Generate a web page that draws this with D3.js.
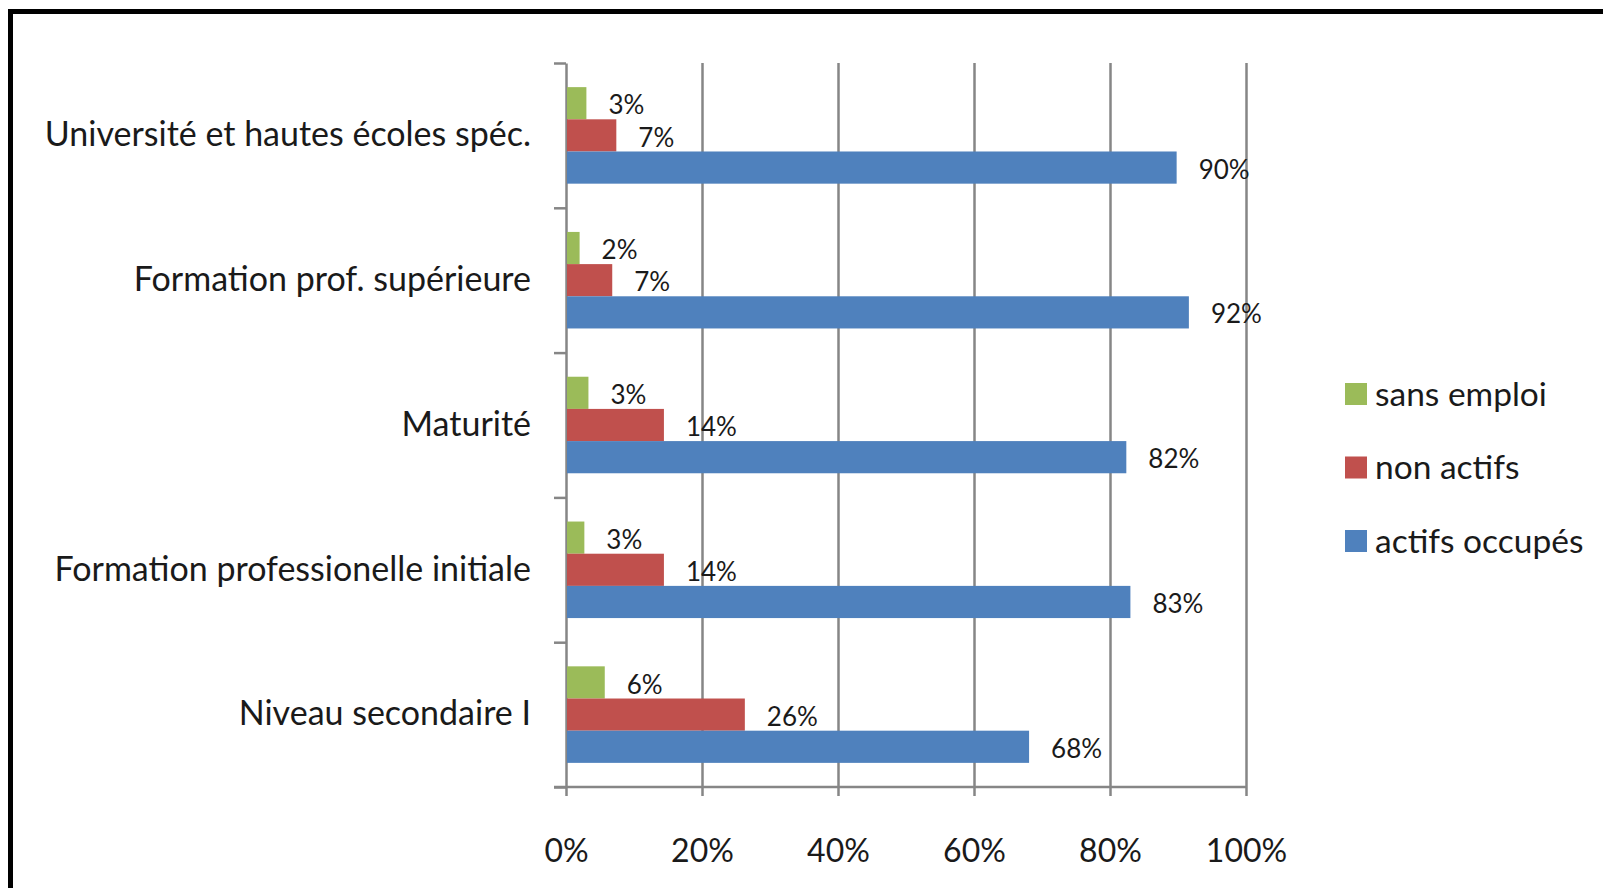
<!DOCTYPE html>
<html lang="fr">

<head>
    <meta charset="utf-8">
    <title>Situation professionnelle selon la formation</title>
    <style>
        body { margin: 0; background: #fff; }
        svg { display: block; font-family: Lato, "Open Sans", sans-serif; }
        .grid line { stroke: #868686; stroke-width: 2.5px; }
        .axis path, .axis line { stroke: #868686; stroke-width: 2.5px; }
        .axis text, .cat text { fill: #1a1a1a; }
        .label { fill: #1a1a1a; font-size: 26px; }
        .legend text { fill: #1a1a1a; font-size: 33.5px; }
    </style>
</head>

<body>
    <script src="https://cdnjs.cloudflare.com/ajax/libs/d3/7.8.5/d3.min.js"></script>
    <script>
        // data (percent)
        const categories = [
            'Université et hautes écoles spéc.',
            'Formation prof. supérieure',
            'Maturité',
            'Formation professionelle initiale',
            'Niveau secondaire I'
        ];
        const seriesNames = ['sans emploi', 'non actifs', 'actifs occupés'];
        const sansEmploi = [3.0, 2.0, 3.3, 2.7, 5.7];
        const nonActifs = [7.4, 6.8, 14.4, 14.4, 26.3];
        const actifsOccupes = [89.8, 91.6, 82.4, 83.0, 68.1];
        const xTicks = [0, 20, 40, 60, 80, 100];
        const colors = ['#9BBB59', '#C0504D', '#4F81BD'];

        function draw() {
            "use strict";

            const width = 1603,
                height = 888;
            const left = 566, right = 1246, top = 63, bottom = 787;

            const svg = d3.select('body')
                .append('svg')
                    .attr('width', width)
                    .attr('height', height);

            // frame round the picture
            svg.append('rect')
                .attr('x', 10.5)
                .attr('y', 11.5)
                .attr('width', width + 20)
                .attr('height', height + 20)
                .attr('fill', 'none')
                .attr('stroke', 'black')
                .attr('stroke-width', 5);

            const seriesValues = [sansEmploi, nonActifs, actifsOccupes];
            const rows = categories.map((c, i) => ({
                cat: c,
                values: seriesNames.map((s, j) => ({ series: s, j: j, value: seriesValues[j][i] }))
            }));

            // scales
            const x = d3.scaleLinear().domain([0, 100]).range([left, right]);
            const y = d3.scaleBand().domain(categories).range([top, bottom]);
            const yInner = d3.scaleBand().domain(seriesNames)
                .range([0, y.bandwidth()])
                .paddingOuter(0.75);
            const yIdx = d3.scaleLinear().domain([0, categories.length]).range([top, bottom]);

            // vertical grid
            svg.append('g')
                .attr('class', 'grid')
                .attr('transform', `translate(0, ${bottom})`)
                .call(d3.axisBottom(x).tickValues(xTicks.slice(1)).tickSize(-(bottom - top)).tickFormat(''))
                .call(g => g.select('.domain').remove());

            // x axis
            const xAxis = svg.append('g')
                .attr('class', 'axis x')
                .attr('transform', `translate(0, ${bottom})`)
                .call(d3.axisBottom(x).tickValues(xTicks).tickSizeInner(9).tickSizeOuter(0)
                    .tickFormat(d => d + '%'));
            xAxis.select('.domain').attr('d', `M${left - 12},0H${right}`);
            xAxis.selectAll('text')
                .attr('y', 64)
                .attr('dy', '0.35em')
                .style('font-size', '32px')
                .style('font-family', 'Lato, sans-serif');

            // y axis: ticks between the categories
            svg.append('g')
                .attr('class', 'axis y')
                .attr('transform', `translate(${left}, 0)`)
                .call(d3.axisLeft(yIdx).ticks(categories.length).tickSizeInner(12).tickSizeOuter(0).tickFormat(''));

            // category labels
            svg.append('g')
                .attr('class', 'cat')
                .attr('transform', `translate(${left}, 0)`)
                .call(d3.axisLeft(y).tickSize(0).tickPadding(35))
                .call(g => g.select('.domain').remove())
                .selectAll('text')
                    .style('font-size', '34px')
                    .style('font-family', 'Lato, sans-serif');

            // bars
            const groups = svg.selectAll('g.row')
                .data(rows)
                .join('g')
                    .attr('class', 'row')
                    .attr('transform', d => `translate(0, ${y(d.cat)})`);

            groups.selectAll('rect')
                .data(d => d.values)
                .join('rect')
                    .attr('x', x(0) + 1)
                    .attr('y', d => yInner(d.series))
                    .attr('width', d => x(d.value) - x(0) - 1)
                    .attr('height', yInner.bandwidth())
                    .attr('fill', d => colors[d.j]);

            groups.selectAll('text.label')
                .data(d => d.values)
                .join('text')
                    .attr('class', 'label')
                    .attr('x', d => x(d.value) + 22)
                    .attr('y', d => yInner(d.series) + yInner.bandwidth() / 2 + 2)
                    .attr('dy', '0.35em')
                    .text(d => Math.round(d.value) + '%');

            // legend
            const legend = svg.append('g')
                .attr('class', 'legend')
                .attr('transform', 'translate(1345, 383)');
            const item = legend.selectAll('g')
                .data(seriesNames)
                .join('g')
                    .attr('transform', (d, i) => `translate(0, ${i * 73.5})`);
            item.append('rect')
                .attr('width', 22)
                .attr('height', 22)
                .attr('fill', (d, i) => colors[i]);
            item.append('text')
                .attr('x', 30)
                .attr('y', 11)
                .attr('dy', '0.35em')
                .text(d => d);
        }

        draw();
    </script>
</body>

</html>
